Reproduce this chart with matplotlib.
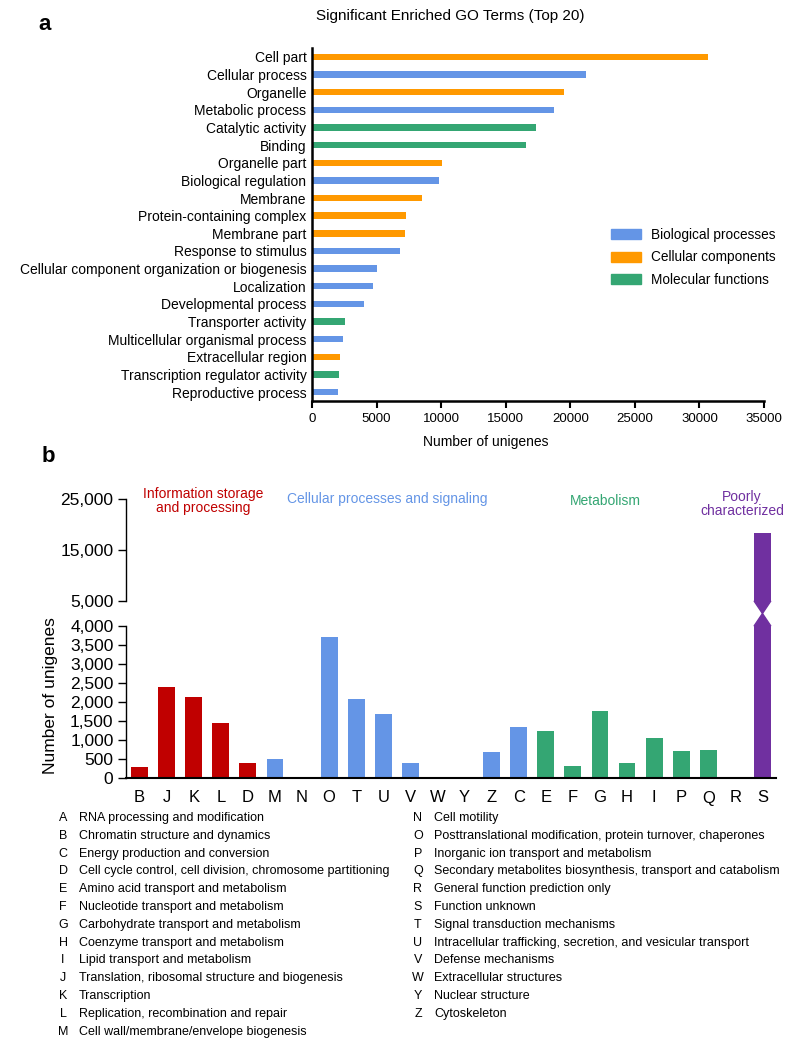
import matplotlib
matplotlib.use("Agg")
import matplotlib.pyplot as plt
import matplotlib.transforms as mtransforms
from matplotlib.patches import Patch, Polygon
from matplotlib.ticker import FuncFormatter
import numpy as np

plt.rcParams['font.family'] = ['Liberation Sans', 'DejaVu Sans']

# Panel a data (GO terms, top 20)
go_terms = ["Cell part", "Cellular process", "Organelle", "Metabolic process",
            "Catalytic activity", "Binding", "Organelle part", "Biological regulation",
            "Membrane", "Protein-containing complex", "Membrane part",
            "Response to stimulus", "Cellular component organization or biogenesis",
            "Localization", "Developmental process", "Transporter activity",
            "Multicellular organismal process", "Extracellular region",
            "Transcription regulator activity", "Reproductive process"]
go_counts = [30700, 21200, 19550, 18750, 17350, 16580, 10040, 9810, 8520, 7280,
             7230, 6810, 5060, 4750, 4050, 2560, 2430, 2200, 2090, 2040]
go_class = ["CC", "BP", "CC", "BP", "MF", "MF", "CC", "BP", "CC", "CC",
            "CC", "BP", "BP", "BP", "BP", "MF", "BP", "CC", "MF", "BP"]

# Panel b data (KOG/COG classes)
cog_letters = ["B", "J", "K", "L", "D", "M", "N", "O", "T", "U", "V", "W",
               "Y", "Z", "C", "E", "F", "G", "H", "I", "P", "Q", "R", "S"]
cog_counts = [290, 2400, 2140, 1450, 400, 500, 0, 3700, 2070, 1690, 400, 0,
              0, 690, 1330, 1240, 320, 1770, 385, 1065, 700, 750, 0, 18400]
cog_group = ["info"] * 5 + ["cell"] * 10 + ["meta"] * 8 + ["poor"]

cog_desc_left = [("A", "RNA processing and modification"),
                 ("B", "Chromatin structure and dynamics"),
                 ("C", "Energy production and conversion"),
                 ("D", "Cell cycle control, cell division, chromosome partitioning"),
                 ("E", "Amino acid transport and metabolism"),
                 ("F", "Nucleotide transport and metabolism"),
                 ("G", "Carbohydrate transport and metabolism"),
                 ("H", "Coenzyme transport and metabolism"),
                 ("I", "Lipid transport and metabolism"),
                 ("J", "Translation, ribosomal structure and biogenesis"),
                 ("K", "Transcription"),
                 ("L", "Replication, recombination and repair"),
                 ("M", "Cell wall/membrane/envelope biogenesis")]
cog_desc_right = [("N", "Cell motility"),
                  ("O", "Posttranslational modification, protein turnover, chaperones"),
                  ("P", "Inorganic ion transport and metabolism"),
                  ("Q", "Secondary metabolites biosynthesis, transport and catabolism"),
                  ("R", "General function prediction only"),
                  ("S", "Function unknown"),
                  ("T", "Signal transduction mechanisms"),
                  ("U", "Intracellular trafficking, secretion, and vesicular transport"),
                  ("V", "Defense mechanisms"),
                  ("W", "Extracellular structures"),
                  ("Y", "Nuclear structure"),
                  ("Z", "Cytoskeleton")]

go_colors = {"BP": "#6495E6", "CC": "#FF9900", "MF": "#34A673"}
cog_colors = {"info": "#C00000", "cell": "#6495E6", "meta": "#34A673", "poor": "#7030A0"}

W, H = 795, 1046
fig = plt.figure(figsize=(W / 100, H / 100), dpi=100)


def px_axes(left, top, right, bottom):
    return fig.add_axes([left / W, 1 - bottom / H, (right - left) / W, (bottom - top) / H])


# ---------------- panel a ----------------
ax = px_axes(312, 48, 764, 401)
y = np.arange(len(go_terms))
ax.barh(y, go_counts, height=0.36, color=[go_colors[c] for c in go_class])
ax.set_ylim(19.5, -0.5)
ax.set_xlim(0, 35000)
ax.set_xticks(np.arange(0, 35001, 5000))
ax.set_yticks(y)
ax.set_yticklabels(go_terms, fontsize=10)
ax.tick_params(axis='y', length=0, pad=4)
ax.tick_params(axis='x', labelsize=9.5, width=1.5, length=5)
for s in ["top", "right"]:
    ax.spines[s].set_visible(False)
for s in ["left", "bottom"]:
    ax.spines[s].set_linewidth(1.8)
handles = [Patch(color=go_colors["BP"], label="Biological processes"),
           Patch(color=go_colors["CC"], label="Cellular components"),
           Patch(color=go_colors["MF"], label="Molecular functions")]
ax.legend(handles=handles, loc="upper left", bbox_to_anchor=(0.635, 0.525), frameon=False,
          fontsize=9.8, handlelength=2.15, handleheight=0.75, labelspacing=0.62,
          handletextpad=0.75)
fig.text(450 / W, 1 - 16 / H, "Significant Enriched GO Terms (Top 20)", ha="center",
         va="center", fontsize=11)
fig.text(486 / W, 1 - 442 / H, "Number of unigenes", ha="center", va="center", fontsize=10)
fig.text(45 / W, 1 - 24 / H, "a", ha="center", va="center", fontsize=16, fontweight="bold")

# ---------------- panel b ----------------
fig.text(48 / W, 1 - 457 / H, "b", ha="center", va="center", fontsize=16, fontweight="bold")
ax_top = px_axes(126, 499, 776, 601)
ax_bot = px_axes(126, 626, 776, 778)
x = np.arange(len(cog_letters))
cols = [cog_colors[g] for g in cog_group]
bw = 0.62
for a in (ax_top, ax_bot):
    a.bar(x, cog_counts, width=bw, color=cols)
    a.set_xlim(-0.5, 23.5)
    for s in ["top", "right"]:
        a.spines[s].set_visible(False)
    a.spines["left"].set_linewidth(1.0)
    a.tick_params(axis='y', labelsize=12.5, length=6, width=1.0, pad=3)
    a.yaxis.set_major_formatter(FuncFormatter(lambda v, p: f"{v:,.0f}"))
ax_top.set_ylim(5000, 25000)
ax_top.set_yticks([5000, 15000, 25000])
ax_top.spines["bottom"].set_visible(False)
ax_top.set_xticks([])
ax_bot.set_ylim(0, 4000)
ax_bot.set_yticks(np.arange(0, 4001, 500))
ax_bot.spines["bottom"].set_linewidth(1.5)
ax_bot.set_xticks(x)
ax_bot.set_xticklabels(cog_letters, fontsize=12)
ax_bot.tick_params(axis='x', length=0, pad=9)
ax_bot.set_ylabel("Number of unigenes", fontsize=12.5)
ax_bot.yaxis.set_label_coords(-0.104, 0.54)

# pinched break on the tallest bar, meeting halfway across the gap
i_big = int(np.argmax(cog_counts))
gap_top = ax_top.get_position().y0
gap_bot = ax_bot.get_position().y1
mid = (gap_top + gap_bot) / 2
tr_top = mtransforms.blended_transform_factory(ax_top.transData, ax_top.transAxes)
tr_bot = mtransforms.blended_transform_factory(ax_bot.transData, ax_bot.transAxes)
h_top = ax_top.get_position().height
h_bot = ax_bot.get_position().height
ax_top.add_patch(Polygon([(i_big - bw / 2, 0), (i_big + bw / 2, 0),
                          (i_big, (mid - gap_top) / h_top)], closed=True,
                         color=cog_colors["poor"], transform=tr_top, clip_on=False))
ax_bot.add_patch(Polygon([(i_big - bw / 2, 1), (i_big + bw / 2, 1),
                          (i_big, 1 + (mid - gap_bot) / h_bot)], closed=True,
                         color=cog_colors["poor"], transform=tr_bot, clip_on=False))

fig.text(203 / W, 1 - 501 / H, "Information storage\nand processing", ha="center",
         va="center", fontsize=10, color=cog_colors["info"], linespacing=1.05)
fig.text(387 / W, 1 - 499 / H, "Cellular processes and signaling", ha="center",
         va="center", fontsize=10, color=cog_colors["cell"])
fig.text(605 / W, 1 - 501 / H, "Metabolism", ha="center", va="center", fontsize=10,
         color=cog_colors["meta"])
fig.text(742 / W, 1 - 504 / H, "Poorly\ncharacterized", ha="center", va="center",
         fontsize=10, color=cog_colors["poor"], linespacing=1.05)

# category descriptions
row = 17.8
for k, (letter, desc) in enumerate(cog_desc_left):
    yy = 1 - (818 + k * row) / H
    fig.text(63 / W, yy, letter, ha="center", va="center", fontsize=9)
    fig.text(79 / W, yy, desc, ha="left", va="center", fontsize=9)
for k, (letter, desc) in enumerate(cog_desc_right):
    yy = 1 - (818 + k * row) / H
    fig.text(418 / W, yy, letter, ha="center", va="center", fontsize=9)
    fig.text(434 / W, yy, desc, ha="left", va="center", fontsize=9)

fig.savefig("out.png", dpi=100)
